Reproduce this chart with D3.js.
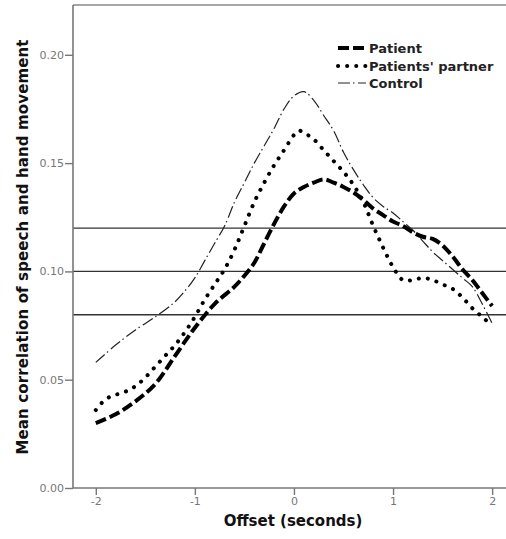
<!DOCTYPE html>
<html>
<head>
<meta charset="utf-8">
<script src="https://cdn.jsdelivr.net/npm/d3@7"></script>
<style>
  html, body { margin: 0; padding: 0; background: #fff; }
  svg { display: block; }
</style>
</head>
<body>
<svg id="chart" width="506" height="539"></svg>
<script>
// ---- data ----
const offsetsPatient = [-2, -1.8, -1.6, -1.4, -1.2, -1.0, -0.8, -0.6, -0.5, -0.4, -0.3, -0.2, -0.1, 0.0, 0.1, 0.2, 0.3, 0.4, 0.5, 0.6, 0.7, 0.8, 0.9, 1.0, 1.1, 1.2, 1.3, 1.4, 1.5, 1.6, 1.7, 1.8, 1.9, 2.0];
const patient = [0.030, 0.034, 0.040, 0.048, 0.061, 0.074, 0.085, 0.093, 0.098, 0.104, 0.113, 0.122, 0.130, 0.136, 0.139, 0.141, 0.1425, 0.141, 0.139, 0.1365, 0.133, 0.129, 0.126, 0.123, 0.121, 0.118, 0.116, 0.115, 0.112, 0.107, 0.101, 0.096, 0.090, 0.084];

const offsetsPartner = [-2, -1.9, -1.8, -1.7, -1.6, -1.5, -1.4, -1.3, -1.2, -1.1, -1.0, -0.9, -0.8, -0.7, -0.6, -0.5, -0.4, -0.3, -0.2, -0.1, 0.0, 0.05, 0.1, 0.2, 0.3, 0.4, 0.5, 0.6, 0.7, 0.8, 0.9, 1.0, 1.1, 1.2, 1.3, 1.4, 1.5, 1.6, 1.7, 1.8, 1.9, 2.0];
const partner = [0.036, 0.041, 0.043, 0.0445, 0.047, 0.051, 0.056, 0.061, 0.066, 0.072, 0.079, 0.087, 0.094, 0.101, 0.110, 0.121, 0.132, 0.141, 0.149, 0.156, 0.163, 0.165, 0.164, 0.161, 0.156, 0.151, 0.146, 0.140, 0.132, 0.121, 0.111, 0.102, 0.096, 0.096, 0.097, 0.096, 0.094, 0.092, 0.088, 0.083, 0.079, 0.075];

const offsetsControl = [-2, -1.8, -1.6, -1.4, -1.2, -1.1, -1.0, -0.9, -0.8, -0.7, -0.6, -0.5, -0.4, -0.3, -0.2, -0.1, 0.0, 0.1, 0.2, 0.3, 0.4, 0.5, 0.6, 0.7, 0.8, 0.9, 1.0, 1.1, 1.2, 1.3, 1.4, 1.5, 1.6, 1.7, 1.8, 1.9, 2.0];
const control = [0.058, 0.066, 0.073, 0.079, 0.086, 0.091, 0.097, 0.105, 0.113, 0.121, 0.132, 0.141, 0.150, 0.158, 0.166, 0.175, 0.181, 0.183, 0.179, 0.172, 0.165, 0.155, 0.147, 0.140, 0.134, 0.130, 0.127, 0.123, 0.119, 0.114, 0.109, 0.105, 0.101, 0.097, 0.093, 0.085, 0.076];

const refLines = [0.08, 0.10, 0.12];
const xTicks = [-2, -1, 0, 1, 2];
const yTicks = [0.00, 0.05, 0.10, 0.15, 0.20];
const seriesNames = ["Patient", "Patients' partner", "Control"];
const xTitle = "Offset (seconds)";
const yTitle = "Mean correlation of speech and hand movement";

// ---- layout ----
const svg = d3.select("#chart");
const pLeft = 73, pRight = 506, pTop = 5, pBottom = 488;
const x = d3.scaleLinear().domain([-2.23, 2.14]).range([pLeft, pRight]);
const y = d3.scaleLinear().domain([0, 0.223]).range([pBottom, pTop]);

const styles = [
  { width: 4, dash: "11,4", cap: "butt", color: "#000" },
  { width: 4, dash: "0.1,9", cap: "round", color: "#000" },
  { width: 1.2, dash: "12,3,1.5,3.5", cap: "butt", color: "#222" }
];

// frame (top line)
svg.append("line").attr("x1", pLeft).attr("x2", pRight).attr("y1", pTop).attr("y2", pTop)
  .attr("stroke", "#888").attr("stroke-width", 1.5);

// reference lines
svg.selectAll("line.ref").data(refLines).enter().append("line")
  .attr("class", "ref")
  .attr("x1", pLeft).attr("x2", pRight)
  .attr("y1", d => y(d)).attr("y2", d => y(d))
  .attr("stroke", "#333").attr("stroke-width", 1.4);

// axes
const yAxis = d3.axisLeft(y).tickValues(yTicks).tickFormat(d3.format(".2f")).tickSize(8).tickPadding(1);
const gy = svg.append("g").attr("transform", `translate(${pLeft},0)`).call(yAxis);
gy.select(".domain").attr("d", `M0,${pTop}V${pBottom}`);

const xAxis = d3.axisBottom(x).tickValues(xTicks).tickFormat(d3.format("d")).tickSize(7).tickPadding(2);
const gx = svg.append("g").attr("transform", `translate(0,${pBottom})`).call(xAxis);
gx.select(".domain").attr("d", `M${pLeft},0H${pRight}`);

[gx, gy].forEach(g => {
  g.select(".domain").attr("stroke", "#777").attr("stroke-width", 1.6);
  g.selectAll(".tick line").attr("stroke", "#777").attr("stroke-width", 1.4);
  g.selectAll(".tick text").attr("fill", "#777")
    .style("font-family", "'DejaVu Sans', sans-serif").style("font-size", "11px");
});
gx.selectAll(".tick text").text(d => d < 0 ? "-" + Math.abs(d) : d);

// lines
const line = d3.line().x(d => x(d[0])).y(d => y(d[1])).curve(d3.curveCatmullRom.alpha(0.5));
const series = [
  d3.zip(offsetsPatient, patient),
  d3.zip(offsetsPartner, partner),
  d3.zip(offsetsControl, control)
];
// draw control first, then partner, then patient on top
[2, 1, 0].forEach(i => {
  const s = styles[i];
  svg.append("path").datum(series[i]).attr("d", line)
    .attr("fill", "none").attr("stroke", s.color).attr("stroke-width", s.width)
    .attr("stroke-dasharray", s.dash).attr("stroke-linecap", s.cap);
});

// legend
const legY = [48, 66, 83];
const lg = svg.append("g");
seriesNames.forEach((name, i) => {
  const s = styles[i];
  lg.append("line").attr("x1", 338).attr("x2", 366).attr("y1", legY[i]).attr("y2", legY[i])
    .attr("stroke", s.color).attr("stroke-width", s.width)
    .attr("stroke-dasharray", s.dash).attr("stroke-linecap", s.cap);
  lg.append("text").attr("x", 369).attr("y", legY[i] + 5)
    .text(name).attr("fill", "#222")
    .style("font-family", "'DejaVu Sans', sans-serif").style("font-size", "13px").style("font-weight", "bold");
});

// axis titles
svg.append("text").attr("x", 293).attr("y", 526).attr("text-anchor", "middle")
  .text(xTitle).attr("fill", "#111")
  .style("font-family", "'DejaVu Sans', sans-serif").style("font-size", "15px").style("font-weight", "bold");
svg.append("text").attr("transform", "translate(28,247) rotate(-90)").attr("text-anchor", "middle")
  .attr("textLength", 415).attr("lengthAdjust", "spacing")
  .text(yTitle).attr("fill", "#111")
  .style("font-family", "'DejaVu Sans', sans-serif").style("font-size", "15px").style("font-weight", "bold");
</script>
</body>
</html>
